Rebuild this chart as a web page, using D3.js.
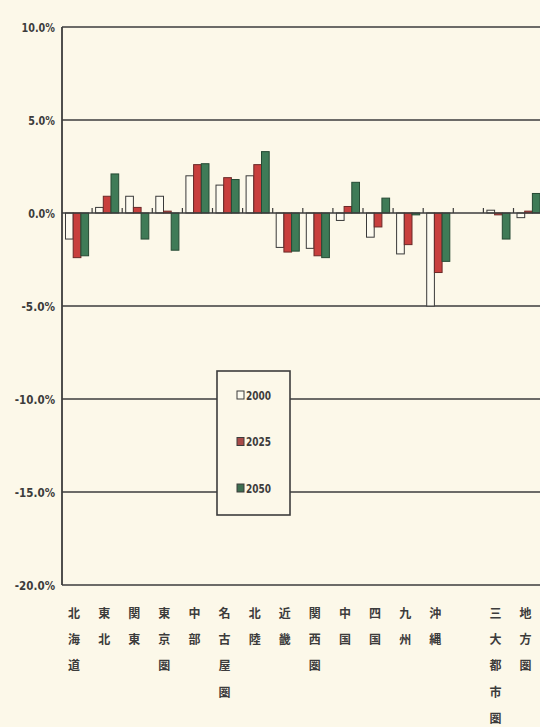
<!DOCTYPE html>
<html>
<head>
<meta charset="utf-8">
<script src="https://cdn.jsdelivr.net/npm/d3@7"></script>
<style>
  html, body { margin: 0; padding: 0; background: #fcf8e9; }
  svg { display: block; }
</style>
</head>
<body>
<svg id="chart" width="540" height="727"></svg>
<script>
// Regional population change rates; "" is a spacer slot between the regions and the two summary groups
const categories = ["北海道","東北","関東","東京圏","中部","名古屋圏","北陸","近畿","関西圏","中国","四国","九州","沖縄","","三大都市圏","地方圏"];
const seriesNames = ["2000","2025","2050"];
const values2000 = [-1.4, 0.3, 0.9, 0.9, 2.0, 1.5, 2.0, -1.85, -1.9, -0.4, -1.3, -2.2, -5.0, null, 0.15, -0.25];
const values2025 = [-2.4, 0.9, 0.3, 0.1, 2.6, 1.9, 2.6, -2.1, -2.3, 0.35, -0.75, -1.7, -3.2, null, -0.1, 0.1];
const values2050 = [-2.3, 2.1, -1.4, -2.0, 2.65, 1.8, 3.3, -2.05, -2.4, 1.65, 0.8, -0.1, -2.6, null, -1.4, 1.05];
const yTicks = [10, 5, 0, -5, -10, -15, -20];
const yTickLabels = ["10.0%", "5.0%", "0.0%", "-5.0%", "-10.0%", "-15.0%", "-20.0%"];

const seriesValues = [values2000, values2025, values2050];
const fills = ["#fdfbf0", "#c83f3d", "#3f7b57"];
const strokes = ["#3a3a3a", "#6b2a28", "#264a34"];
const swatchFills = ["#fdfbf0", "#a84a48", "#3d6e50"];

const svg = d3.select("#chart");
const bg = "#fcf8e9";
const ink = "#3c3c3c";
const narrowFont = "'DejaVu Sans Condensed', 'DejaVu Sans', sans-serif";

const plotLeft = 62, plotTop = 27, plotBottom = 585;
const idx = d3.range(categories.length);
const x = d3.scaleBand().domain(idx).range([plotLeft, plotLeft + categories.length * 30.1]).padding(0);
const y = d3.scaleLinear().domain([-20, 10]).range([plotBottom, plotTop]);
const inner = d3.scaleBand().domain(seriesNames).range([3.5, x.bandwidth() - 3.5]).padding(0);

// horizontal grid lines
svg.append("g").selectAll("line").data(yTicks.filter(t => t !== 0)).join("line")
  .attr("x1", plotLeft).attr("x2", 545)
  .attr("y1", d => y(d)).attr("y2", d => y(d))
  .attr("stroke", ink).attr("stroke-width", 1.6);

// y axis labels in a tall, narrow face
const yAxis = d3.axisLeft(y).tickValues(yTicks).tickSize(0).tickPadding(7)
  .tickFormat(d => yTickLabels[yTicks.indexOf(d)]);
const gy = svg.append("g").attr("transform", `translate(${plotLeft},0)`).call(yAxis);
gy.select(".domain").remove();
gy.selectAll("text")
  .attr("font-family", narrowFont)
  .attr("font-weight", "bold").attr("font-size", 12.5).attr("fill", ink)
  .attr("textLength", function () { return this.textContent.length * 6.7; })
  .attr("lengthAdjust", "spacingAndGlyphs");

// bars, one group per category slot
const barGroups = svg.append("g").selectAll("g").data(idx).join("g")
  .attr("transform", i => `translate(${x(i)},0)`);
seriesNames.forEach((s, k) => {
  barGroups.filter(i => seriesValues[k][i] != null).append("rect")
    .attr("x", inner(s))
    .attr("width", inner.bandwidth())
    .attr("y", i => y(Math.max(0, seriesValues[k][i])))
    .attr("height", i => Math.abs(y(seriesValues[k][i]) - y(0)))
    .attr("fill", fills[k]).attr("stroke", strokes[k]).attr("stroke-width", 1);
});

// category axis along zero, ticks between categories pointing up
const tickPositions = d3.range(1, categories.length + 1).map(i => plotLeft + i * x.step());
svg.append("line").attr("x1", plotLeft).attr("x2", 545).attr("y1", y(0)).attr("y2", y(0))
  .attr("stroke", ink).attr("stroke-width", 1.6);
svg.append("g").selectAll("line").data(tickPositions).join("line")
  .attr("x1", d => d).attr("x2", d => d)
  .attr("y1", y(0)).attr("y2", y(0) - 5)
  .attr("stroke", ink).attr("stroke-width", 1.2);

// left axis line
svg.append("line").attr("x1", plotLeft).attr("x2", plotLeft).attr("y1", plotTop).attr("y2", plotBottom)
  .attr("stroke", ink).attr("stroke-width", 1.8);

// vertical category labels below the plot
const labels = svg.append("g").selectAll("text").data(idx).join("text")
  .attr("transform", i => `translate(${x(i) + x.bandwidth() / 2 - 3},0)`)
  .attr("text-anchor", "middle")
  .attr("font-family", "'Noto Sans CJK JP', sans-serif")
  .attr("font-weight", "bold").attr("font-size", 12).attr("fill", ink);
labels.each(function (i) {
  const t = d3.select(this);
  Array.from(categories[i]).forEach((ch, j) => {
    t.append("tspan").attr("x", 0).attr("y", 617.5 + j * 26.4).text(ch);
  });
});

// legend
const lg = svg.append("g").attr("transform", "translate(217,371)");
lg.append("rect").attr("width", 73).attr("height", 144)
  .attr("fill", bg).attr("stroke", ink).attr("stroke-width", 1.6);
seriesNames.forEach((s, k) => {
  const yy = 24 + k * 46.5;
  lg.append("rect").attr("x", 20).attr("y", yy - 4).attr("width", 7).attr("height", 8)
    .attr("fill", swatchFills[k]).attr("stroke", ink).attr("stroke-width", 1);
  lg.append("text").attr("x", 29).attr("y", yy + 4.5).text(s)
    .attr("font-family", narrowFont)
    .attr("font-weight", "bold").attr("font-size", 12).attr("fill", ink)
    .attr("textLength", 25).attr("lengthAdjust", "spacingAndGlyphs");
});
</script>
</body>
</html>
